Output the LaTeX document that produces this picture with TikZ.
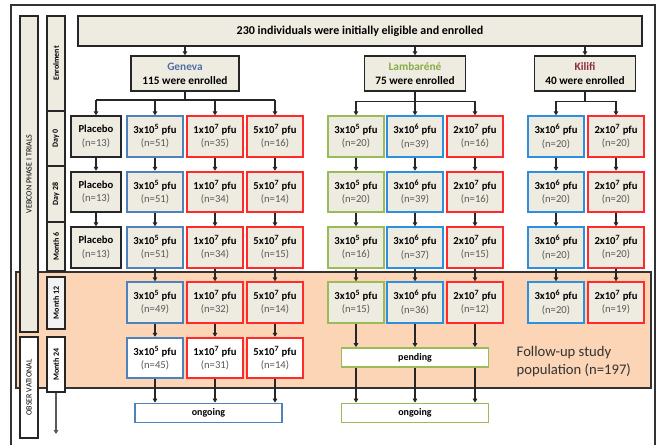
\documentclass[tikz,border=0pt]{standalone}
\usepackage{fontspec}
\setmainfont{Carlito}
\usetikzlibrary{arrows.meta}
\definecolor{beige}{HTML}{EEECE1}
\definecolor{peach}{HTML}{FBD5B5}
\definecolor{cblk}{HTML}{262626}
\definecolor{cblu}{HTML}{4F81BD}
\definecolor{clbl}{HTML}{2E8FDE}
\definecolor{cred}{HTML}{FF2B2B}
\definecolor{cgrn}{HTML}{9BBB59}
\definecolor{ntxt}{HTML}{595959}
\definecolor{cgen}{HTML}{4F6FA8}
\definecolor{clam}{HTML}{86AD45}
\definecolor{ckil}{HTML}{8E2A3B}
\definecolor{lgrey}{HTML}{F2F2F2}
\definecolor{frm}{HTML}{333333}
\newcommand{\bxt}[2]{{\bfseries #1}\\{\color{ntxt}(n=#2)}}
\newcommand{\pe}[1]{\textsuperscript{#1}}
\begin{document}
\begin{tikzpicture}[x=0.75pt,y=-0.75pt,
  box/.style={draw, line width=1.3pt, fill=beige, minimum width=42pt, minimum height=30.5pt, inner sep=0pt, align=center, font=\fontsize{8}{10}\selectfont},
  bk/.style={box, draw=cblk},
  bl/.style={box, draw=cblu},
  lb/.style={box, draw=clbl},
  rd/.style={box, draw=cred},
  gn/.style={box, draw=cgrn},
  wt/.style={fill=white},
  plc/.style={bk, minimum width=38pt},
  site/.style={draw=cblk, line width=1.3pt, fill=beige, minimum height=26pt, inner sep=0pt, align=center, font=\bfseries\fontsize{8.5}{10.5}\selectfont},
  lab/.style={draw=cblk, line width=1pt, rotate=90, inner sep=0pt, minimum height=13.5pt, font=\bfseries\fontsize{6}{7}\selectfont, fill=beige},
  arr/.style={draw=cblk, line width=0.9pt, -{Triangle[length=3pt,width=3.5pt]}},
  ln/.style={draw=cblk, line width=0.9pt},
  wide/.style={draw, line width=1.1pt, fill=white, minimum width=110pt, minimum height=14.5pt, inner sep=0pt, font=\bfseries\fontsize{7.5}{9}\selectfont}]
\useasboundingbox (0,0) rectangle (663,445);
\draw[line width=0.8pt, frm] (11,446) -- (11,5) -- (655,5) -- (655,446);
% follow-up region
\draw[line width=1pt, frm, fill=peach] (16,272) rectangle (651,388);
\node[anchor=west, align=left, text=frm, font=\fontsize{11}{13.5}\selectfont] (fup) at (512,362) {Follow-up study\\population (n=197)};
% left columns
\node[lab, font=\fontsize{6}{7}\selectfont, minimum width=237pt] (veb) at (29,174) {VEBCON PHASE I TRIALS};
\node[lab, font=\fontsize{6}{7}\selectfont, minimum width=75.75pt, fill=white] (obs) at (29,387.5) {OBSER VATIONAL};
\node[lab, minimum width=71.25pt] (en) at (56,63.5) {Enrolment};
\node[lab, minimum width=41.25pt] (d0) at (56,138.5) {Day 0};
\node[lab, minimum width=42pt] (d28) at (56,194) {Day 28};
\node[lab, minimum width=36.75pt] (m6) at (56,246.5) {Month 6};
\node[lab, minimum width=39pt, fill=lgrey] (m12) at (56,303) {Month 12};
\node[lab, minimum width=41.25pt, fill=white] (m24) at (56,364.5) {Month 24};
\coordinate (tend) at (56,434);
\draw[arr, draw=ntxt] (m24) -- (tend);
% top
\node[site, minimum width=423pt, minimum height=22.5pt, font=\bfseries\fontsize{9}{11}\selectfont] (top) at (360,31) {230 individuals were initially eligible and enrolled};
\node[site, minimum width=81pt] (gen) at (185,73.5) {{\color{cgen}Geneva}\\115 were enrolled};
\node[site, minimum width=75.75pt] (lam) at (415,73.5) {{\color{clam}Lambaréné}\\75 were enrolled};
\node[site, minimum width=75.75pt] (kil) at (585,73.5) {{\color{ckil}Kilifi}\\40 were enrolled};
\foreach \s in {gen,lam,kil} \draw[arr] (top.south -| \s) -- (\s);
% Geneva
\foreach \r/\y in {0/136.5,1/192,2/247.5}
  \node[plc] (gp\r) at (96,\y) {\bxt{Placebo}{13}};
\foreach \r/\y/\a/\b/\c in {0/136.5/51/35/16, 1/192/51/34/14, 2/247.5/51/34/15, 3/302.5/49/32/14} {
  \node[bl] (ga\r) at (155,\y) {\bxt{3x10\pe{5} pfu}{\a}};
  \node[rd] (gb\r) at (215,\y) {\bxt{1x10\pe{7} pfu}{\b}};
  \node[rd] (gc\r) at (275,\y) {\bxt{5x10\pe{7} pfu}{\c}};
}
\node[bl, wt] (ga4) at (155,358) {\bxt{3x10\pe{5} pfu}{45}};
\node[rd, wt] (gb4) at (215,358) {\bxt{1x10\pe{7} pfu}{31}};
\node[rd, wt] (gc4) at (275,358) {\bxt{5x10\pe{7} pfu}{14}};
\node[wide, draw=cblu] (gon) at (208.5,413) {ongoing};
% Lambarene
\foreach \r/\y/\a/\b/\c in {0/136.5/20/39/16, 1/192/20/39/16, 2/247.5/16/37/15, 3/302.5/15/36/12} {
  \node[gn] (la\r) at (356,\y) {\bxt{3x10\pe{5} pfu}{\a}};
  \node[lb] (lb\r) at (415,\y) {\bxt{3x10\pe{6} pfu}{\b}};
  \node[rd] (lc\r) at (475,\y) {\bxt{2x10\pe{7} pfu}{\c}};
}
\node[wide, draw=cgrn] (lpe) at (415,357.5) {pending};
\node[wide, draw=cgrn] (lon) at (415,413) {ongoing};
% Kilifi
\foreach \r/\y/\a/\b in {0/136.5/20/20, 1/192/20/20, 2/247.5/20/20, 3/302.5/20/19} {
  \node[lb] (ka\r) at (556,\y) {\bxt{3x10\pe{6} pfu}{\a}};
  \node[rd] (kb\r) at (616,\y) {\bxt{2x10\pe{7} pfu}{\b}};
}
% branches
\coordinate (gbr) at (185,100);
\coordinate (lbr) at (415,101.5);
\coordinate (kbr) at (585,101.5);
\draw[ln] (gen) -- (gbr);
\draw[ln] (lam) -- (lbr);
\draw[ln] (kil) -- (kbr);
\draw[ln] (gbr -| gp0) -- (gbr -| gc0);
\draw[ln] (lbr -| la0) -- (lbr -| lc0);
\draw[ln] (kbr -| ka0) -- (kbr -| kb0);
\foreach \c in {gp0,ga0,gb0,gc0} \draw[arr] (gbr -| \c) -- (\c);
\foreach \c in {la0,lb0,lc0} \draw[arr] (lbr -| \c) -- (\c);
\foreach \c in {ka0,kb0} \draw[arr] (kbr -| \c) -- (\c);
% vertical arrows
\draw[arr] (gp0) -- (gp1);
\draw[arr] (gp1) -- (gp2);
\foreach \c in {ga,gb,gc}
  \foreach \r/\s in {0/1,1/2,2/3,3/4} \draw[arr] (\c\r) -- (\c\s);
\foreach \c in {la,lb,lc,ka,kb}
  \foreach \r/\s in {0/1,1/2,2/3} \draw[arr] (\c\r) -- (\c\s);
\foreach \c in {ga4,gb4,gc4} \draw[arr] (\c) -- (\c |- gon.north);
\foreach \c in {la3,lb3,lc3} {
  \draw[arr] (\c) -- (\c |- lpe.north);
  \draw[arr] (\c |- lpe.south) -- (\c |- lon.north);
}
\end{tikzpicture}
\end{document}
